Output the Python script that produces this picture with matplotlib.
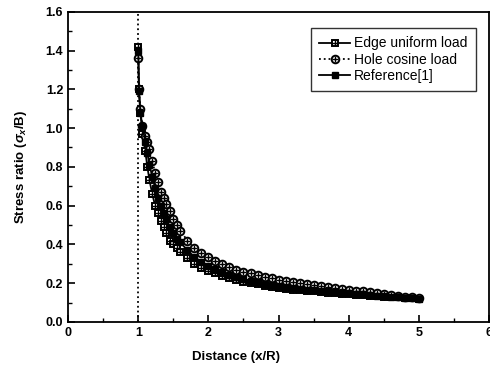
import matplotlib.pyplot as plt
from matplotlib.legend_handler import HandlerTuple
from matplotlib.ticker import MultipleLocator

plt.rcParams['font.family'] = ['Liberation Sans', 'DejaVu Sans']
plt.rcParams['mathtext.fontset'] = 'custom'
plt.rcParams['mathtext.rm'] = 'Liberation Sans:bold'
plt.rcParams['mathtext.it'] = 'Liberation Sans:bold:italic'

# distance x/R
dist = [1.00, 1.01, 1.03, 1.06, 1.10, 1.13, 1.16, 1.20, 1.24, 1.28, 1.32, 1.36,
        1.40, 1.45, 1.50, 1.55, 1.60, 1.70, 1.80, 1.90, 2.0, 2.1, 2.2, 2.3, 2.4,
        2.5, 2.6, 2.7, 2.8, 2.9, 3.0, 3.1, 3.2, 3.3, 3.4, 3.5, 3.6, 3.7, 3.8,
        3.9, 4.0, 4.1, 4.2, 4.3, 4.4, 4.5, 4.6, 4.7, 4.8, 4.9, 5.0]

edge_uniform = [1.42, 1.20, 1.08, 0.97, 0.88, 0.80, 0.73, 0.66, 0.60, 0.56, 0.52, 0.49,
                0.46, 0.42, 0.40, 0.38, 0.36, 0.33, 0.30, 0.28, 0.265, 0.25, 0.237, 0.226, 0.216,
                0.207, 0.200, 0.193, 0.187, 0.181, 0.176, 0.171, 0.167, 0.163, 0.160, 0.157, 0.154, 0.151, 0.148,
                0.146, 0.143, 0.141, 0.138, 0.136, 0.133, 0.131, 0.128, 0.126, 0.123, 0.121, 0.118]

hole_cosine = [1.36, 1.20, 1.10, 1.01, 0.96, 0.93, 0.89, 0.83, 0.77, 0.72, 0.67, 0.64,
               0.61, 0.57, 0.53, 0.50, 0.47, 0.42, 0.38, 0.355, 0.335, 0.315, 0.298, 0.283, 0.27,
               0.26, 0.25, 0.241, 0.233, 0.225, 0.218, 0.211, 0.205, 0.200, 0.195, 0.190, 0.185, 0.180, 0.175,
               0.170, 0.165, 0.161, 0.157, 0.153, 0.149, 0.145, 0.141, 0.136, 0.131, 0.127, 0.122]

reference = [1.40, 1.19, 1.08, 1.01, 0.93, 0.87, 0.81, 0.75, 0.69, 0.64, 0.60, 0.56,
             0.53, 0.49, 0.46, 0.43, 0.41, 0.37, 0.335, 0.31, 0.29, 0.272, 0.256, 0.242, 0.231,
             0.221, 0.212, 0.204, 0.197, 0.191, 0.185, 0.180, 0.175, 0.171, 0.167, 0.163, 0.160, 0.157, 0.154,
             0.151, 0.148, 0.145, 0.142, 0.139, 0.136, 0.134, 0.131, 0.128, 0.125, 0.122, 0.120]

fig = plt.figure(figsize=(4.9, 3.7), dpi=100)
ax = fig.add_axes([0.139, 0.130, 0.859, 0.838])

ax.axvline(1.0, color='black', linestyle=':', linewidth=1.3)

ms = 5
l1, = ax.plot(dist, edge_uniform, color='black', linestyle='-', linewidth=1.3,
              marker='s', markersize=ms, markerfacecolor='white', markeredgecolor='black', markeredgewidth=1.4)
p1, = ax.plot(dist, edge_uniform, color='black', linestyle='none',
              marker='+', markersize=ms - 0.5, markeredgewidth=1)
l2, = ax.plot(dist, hole_cosine, color='black', linestyle=':', linewidth=1.3,
              marker='o', markersize=ms + 0.5, markerfacecolor='white', markeredgecolor='black', markeredgewidth=1.4)
p2, = ax.plot(dist, hole_cosine, color='black', linestyle='none',
              marker='+', markersize=ms, markeredgewidth=1)
l3, = ax.plot(dist, reference, color='black', linestyle='-', linewidth=1.3,
              marker='s', markersize=ms, markerfacecolor='black', markeredgecolor='black')

ax.set_xlim(0, 6)
ax.set_ylim(0, 1.6)
ax.xaxis.set_major_locator(MultipleLocator(1))
ax.xaxis.set_minor_locator(MultipleLocator(0.5))
ax.yaxis.set_major_locator(MultipleLocator(0.2))
ax.yaxis.set_minor_locator(MultipleLocator(0.1))
ax.yaxis.set_major_formatter(plt.FormatStrFormatter('%.1f'))
ax.tick_params(which='both', direction='in', labelsize=9)
ax.tick_params(which='major', length=5, width=1.2)
ax.tick_params(which='minor', length=3, width=1)
for lab in ax.get_xticklabels() + ax.get_yticklabels():
  lab.set_fontweight('bold')
for sp in ax.spines.values():
  sp.set_linewidth(1.3)

ax.set_xlabel('Distance (x/R)', fontsize=9.5, fontweight='bold', labelpad=6)
ax.xaxis.set_label_coords(0.40, -0.095)
ax.set_ylabel(r'Stress ratio ($\sigma_x$/B)', fontsize=9.5, fontweight='bold', labelpad=12)

leg = ax.legend([(l1, p1), (l2, p2), l3], ['Edge uniform load', 'Hole cosine load', 'Reference[1]'],
                handler_map={tuple: HandlerTuple(ndivide=1, pad=0)},
                loc='upper right', bbox_to_anchor=(0.985, 0.97), fontsize=10,
                frameon=True, fancybox=False, edgecolor='black', handlelength=2.2,
                handletextpad=0.3, borderpad=0.6, labelspacing=0.15)
leg.get_frame().set_linewidth(1.0)

plt.savefig('out.png', dpi=100)
